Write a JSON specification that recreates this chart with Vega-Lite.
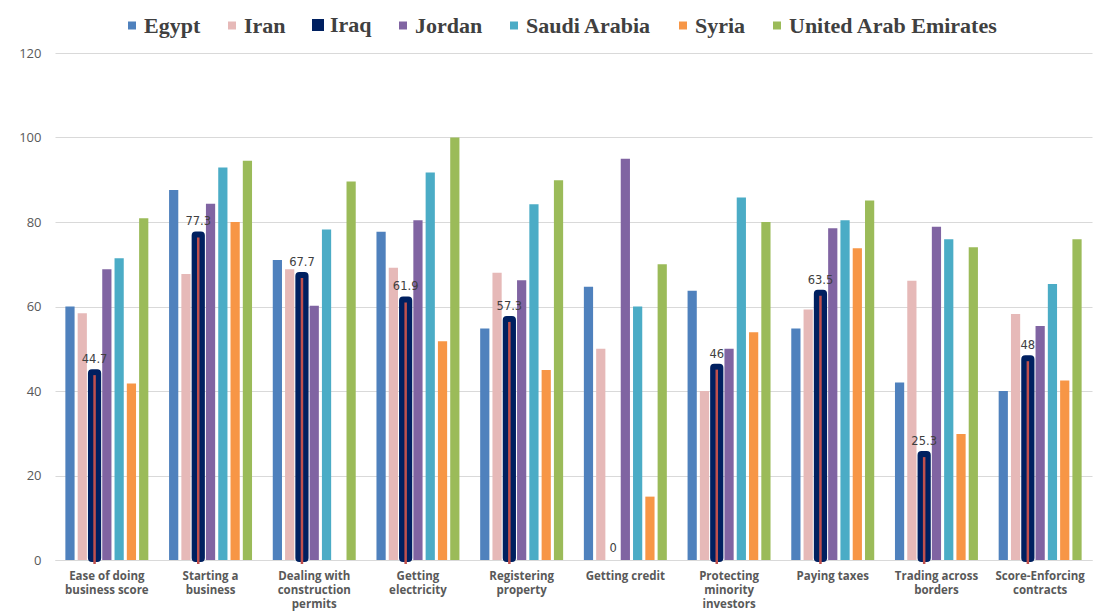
{
  "$schema": "https://vega.github.io/schema/vega-lite/v6.json",
  "width": 1037,
  "height": 507,
  "autosize": {"type": "none"},
  "padding": {"left": 55, "top": 53, "right": 4, "bottom": 51},
  "background": "white",
  "config": {"view": {"stroke": null}, "font": "Open Sans"},
  "data": {
    "values": [
      {"indicator": "Ease of doing business score", "country": "Egypt", "value": 60},
      {"indicator": "Ease of doing business score", "country": "Iran", "value": 58.4},
      {"indicator": "Ease of doing business score", "country": "Iraq", "value": 44.7},
      {"indicator": "Ease of doing business score", "country": "Jordan", "value": 68.8},
      {"indicator": "Ease of doing business score", "country": "Saudi Arabia", "value": 71.4},
      {"indicator": "Ease of doing business score", "country": "Syria", "value": 41.8},
      {"indicator": "Ease of doing business score", "country": "United Arab Emirates", "value": 80.9},
      {"indicator": "Starting a business", "country": "Egypt", "value": 87.6},
      {"indicator": "Starting a business", "country": "Iran", "value": 67.7},
      {"indicator": "Starting a business", "country": "Iraq", "value": 77.3},
      {"indicator": "Starting a business", "country": "Jordan", "value": 84.3},
      {"indicator": "Starting a business", "country": "Saudi Arabia", "value": 92.9},
      {"indicator": "Starting a business", "country": "Syria", "value": 80},
      {"indicator": "Starting a business", "country": "United Arab Emirates", "value": 94.5},
      {"indicator": "Dealing with construction permits", "country": "Egypt", "value": 71},
      {"indicator": "Dealing with construction permits", "country": "Iran", "value": 68.8},
      {"indicator": "Dealing with construction permits", "country": "Iraq", "value": 67.7},
      {"indicator": "Dealing with construction permits", "country": "Jordan", "value": 60.2},
      {"indicator": "Dealing with construction permits", "country": "Saudi Arabia", "value": 78.2},
      {"indicator": "Dealing with construction permits", "country": "United Arab Emirates", "value": 89.6},
      {"indicator": "Getting electricity", "country": "Egypt", "value": 77.7},
      {"indicator": "Getting electricity", "country": "Iran", "value": 69.2},
      {"indicator": "Getting electricity", "country": "Iraq", "value": 61.9},
      {"indicator": "Getting electricity", "country": "Jordan", "value": 80.4},
      {"indicator": "Getting electricity", "country": "Saudi Arabia", "value": 91.7},
      {"indicator": "Getting electricity", "country": "Syria", "value": 51.8},
      {"indicator": "Getting electricity", "country": "United Arab Emirates", "value": 100},
      {"indicator": "Registering property", "country": "Egypt", "value": 54.8},
      {"indicator": "Registering property", "country": "Iran", "value": 68},
      {"indicator": "Registering property", "country": "Iraq", "value": 57.3},
      {"indicator": "Registering property", "country": "Jordan", "value": 66.2},
      {"indicator": "Registering property", "country": "Saudi Arabia", "value": 84.2},
      {"indicator": "Registering property", "country": "Syria", "value": 45},
      {"indicator": "Registering property", "country": "United Arab Emirates", "value": 89.9},
      {"indicator": "Getting credit", "country": "Egypt", "value": 64.7},
      {"indicator": "Getting credit", "country": "Iran", "value": 50},
      {"indicator": "Getting credit", "country": "Iraq", "value": 0},
      {"indicator": "Getting credit", "country": "Jordan", "value": 95},
      {"indicator": "Getting credit", "country": "Saudi Arabia", "value": 60},
      {"indicator": "Getting credit", "country": "Syria", "value": 15},
      {"indicator": "Getting credit", "country": "United Arab Emirates", "value": 70},
      {"indicator": "Protecting minority investors", "country": "Egypt", "value": 63.7},
      {"indicator": "Protecting minority investors", "country": "Iran", "value": 40},
      {"indicator": "Protecting minority investors", "country": "Iraq", "value": 46},
      {"indicator": "Protecting minority investors", "country": "Jordan", "value": 50},
      {"indicator": "Protecting minority investors", "country": "Saudi Arabia", "value": 85.8},
      {"indicator": "Protecting minority investors", "country": "Syria", "value": 53.9},
      {"indicator": "Protecting minority investors", "country": "United Arab Emirates", "value": 80},
      {"indicator": "Paying taxes", "country": "Egypt", "value": 54.8},
      {"indicator": "Paying taxes", "country": "Iran", "value": 59.3},
      {"indicator": "Paying taxes", "country": "Iraq", "value": 63.5},
      {"indicator": "Paying taxes", "country": "Jordan", "value": 78.5},
      {"indicator": "Paying taxes", "country": "Saudi Arabia", "value": 80.4},
      {"indicator": "Paying taxes", "country": "Syria", "value": 73.8},
      {"indicator": "Paying taxes", "country": "United Arab Emirates", "value": 85.1},
      {"indicator": "Trading across borders", "country": "Egypt", "value": 42},
      {"indicator": "Trading across borders", "country": "Iran", "value": 66.1},
      {"indicator": "Trading across borders", "country": "Iraq", "value": 25.3},
      {"indicator": "Trading across borders", "country": "Jordan", "value": 78.9},
      {"indicator": "Trading across borders", "country": "Saudi Arabia", "value": 75.9},
      {"indicator": "Trading across borders", "country": "Syria", "value": 29.8},
      {"indicator": "Trading across borders", "country": "United Arab Emirates", "value": 74},
      {"indicator": "Score-Enforcing contracts", "country": "Egypt", "value": 40},
      {"indicator": "Score-Enforcing contracts", "country": "Iran", "value": 58.2},
      {"indicator": "Score-Enforcing contracts", "country": "Iraq", "value": 48},
      {"indicator": "Score-Enforcing contracts", "country": "Jordan", "value": 55.4},
      {"indicator": "Score-Enforcing contracts", "country": "Saudi Arabia", "value": 65.3},
      {"indicator": "Score-Enforcing contracts", "country": "Syria", "value": 42.5},
      {"indicator": "Score-Enforcing contracts", "country": "United Arab Emirates", "value": 75.9}
    ]
  },
  "encoding": {
    "x": {
      "field": "indicator",
      "type": "nominal",
      "sort": [
        "Ease of doing business score", "Starting a business", "Dealing with construction permits",
        "Getting electricity", "Registering property", "Getting credit",
        "Protecting minority investors", "Paying taxes", "Trading across borders", "Score-Enforcing contracts"
      ],
      "scale": {"paddingInner": 0.2, "paddingOuter": 0.1},
      "title": null,
      "axis": {
        "labelAngle": 0,
        "ticks": false,
        "domainColor": "#d9d9d9",
        "labelFont": "Open Sans",
        "labelFontWeight": "bold",
        "labelFontSize": 11.5,
        "labelColor": "#595959",
        "labelPadding": 10,
        "labelBaseline": "top",
        "labelLineHeight": 14,
        "labelLimit": 200,
        "labelExpr": "datum.label == 'Ease of doing business score' ? ['Ease of doing', 'business score'] : datum.label == 'Starting a business' ? ['Starting a', 'business'] : datum.label == 'Dealing with construction permits' ? ['Dealing with', 'construction', 'permits'] : datum.label == 'Getting electricity' ? ['Getting', 'electricity'] : datum.label == 'Registering property' ? ['Registering', 'property'] : datum.label == 'Protecting minority investors' ? ['Protecting', 'minority', 'investors'] : datum.label == 'Trading across borders' ? ['Trading across', 'borders'] : datum.label == 'Score-Enforcing contracts' ? ['Score-Enforcing', 'contracts'] : datum.label"
      }
    },
    "xOffset": {
      "field": "country",
      "type": "nominal",
      "scale": {
        "domain": ["Egypt", "Iran", "Iraq", "Jordan", "Saudi Arabia", "Syria", "United Arab Emirates"],
        "paddingInner": 0.25,
        "paddingOuter": 0
      }
    },
    "y": {
      "field": "value",
      "type": "quantitative",
      "scale": {"domain": [0, 120], "nice": false},
      "title": null,
      "axis": {
        "values": [0, 20, 40, 60, 80, 100, 120],
        "ticks": false,
        "domain": false,
        "gridColor": "#d9d9d9",
        "labelColor": "#595959",
        "labelFontSize": 13,
        "labelPadding": 14
      }
    }
  },
  "layer": [
    {
      "transform": [{"filter": "datum.country != 'Iraq'"}],
      "mark": {"type": "bar"},
      "encoding": {
        "color": {
          "field": "country",
          "type": "nominal",
          "scale": {
            "domain": ["Egypt", "Iran", "Iraq", "Jordan", "Saudi Arabia", "Syria", "United Arab Emirates"],
            "range": ["#4f81bd", "#e6b9b8", "#002060", "#8064a2", "#4bacc6", "#f79646", "#9bbb59"]
          },
          "legend": {
            "orient": "none",
            "legendX": 66,
            "legendY": -39,
            "direction": "horizontal",
            "title": null,
            "labelFont": "Liberation Serif",
            "labelFontWeight": "bold",
            "labelFontSize": 22,
            "labelColor": "#404040",
            "labelLimit": 400,
            "labelOffset": 1,
            "symbolType": "square",
            "symbolSize": 64,
            "columnPadding": 20,
            "encode": {
              "symbols": {
                "update": {
                  "stroke": {"signal": "datum.value == 'Iraq' ? '#002060' : null"},
                  "strokeWidth": {"signal": "datum.value == 'Iraq' ? 4 : 0"}
                }
              }
            }
          }
        }
      }
    },
    {
      "transform": [{"filter": "datum.country == 'Iraq' && datum.value > 0"}],
      "mark": {"type": "bar", "fill": "#002060", "stroke": "#002060", "strokeWidth": 4, "cornerRadius": 2}
    },
    {
      "transform": [{"filter": "datum.country == 'Iraq' && datum.value > 0"}],
      "mark": {"type": "bar", "fill": "#c0504d", "width": 2.5, "yOffset": 4, "y2Offset": -2}
    },
    {
      "transform": [{"filter": "datum.country == 'Iraq'"}],
      "mark": {"type": "text", "dy": -11, "font": "DejaVu Sans", "fontSize": 11.5, "fill": "#404040"},
      "encoding": {"text": {"field": "value", "type": "quantitative"}}
    }
  ]
}
